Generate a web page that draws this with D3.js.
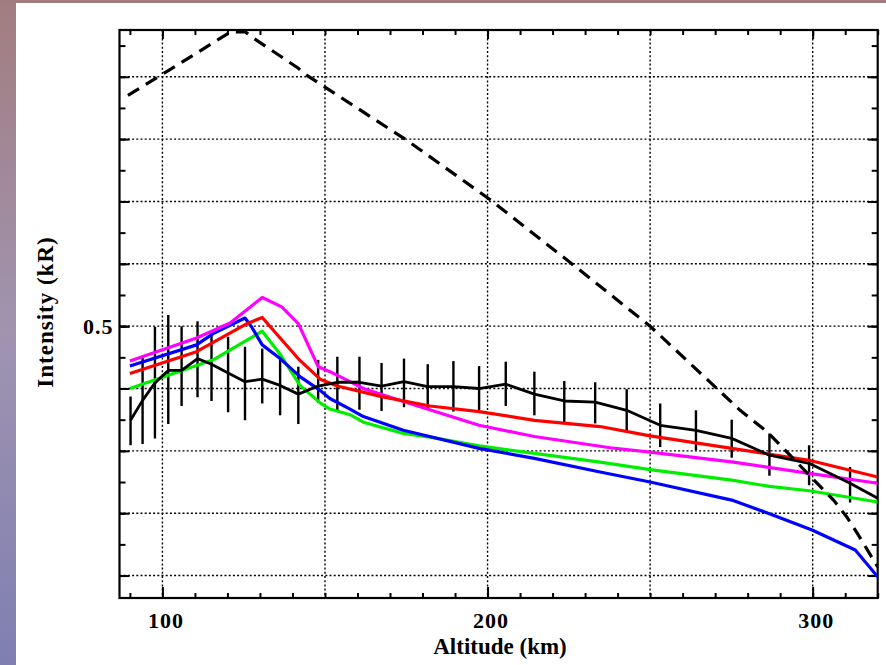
<!DOCTYPE html>
<html>
<head>
<meta charset="utf-8">
<script src="https://cdn.jsdelivr.net/npm/d3@7"></script>
<style>
  html, body { margin: 0; padding: 0; background: #ffffff; }
  svg { display: block; }
</style>
</head>
<body>
<svg id="chart" width="886" height="665"></svg>
<script>
// ---------------- data ----------------
const xDomain = [86.8, 320];          // altitude axis extent (km)
const yDomain = [0.064, 0.975];       // intensity axis extent (kR)
const xTickLabels = [100, 200, 300];
const yTickLabels = [0.5];
const xGrid = [100, 150, 200, 250, 300];
const yGrid = [0.1, 0.2, 0.3, 0.4, 0.5, 0.6, 0.7, 0.8, 0.9];

// dashed black model
const dashedAlt = [89.4, 100, 121, 125.5, 128, 141.7, 144.8, 175.2, 200.5, 225.7, 250, 261.3, 269.5, 277.7, 285.9, 292.1, 298.2, 306.4, 310.5, 313.7, 320];
const dashedVal = [0.870, 0.904, 0.972, 0.972, 0.962, 0.914, 0.901, 0.798, 0.704, 0.601, 0.500, 0.445, 0.405, 0.365, 0.331, 0.298, 0.265, 0.221, 0.194, 0.168, 0.114];

// magenta model
const magentaAlt = [90, 110.5, 120.8, 130.7, 136.7, 141.8, 147.9, 151.5, 157.7, 161.8, 174.1, 197.4, 214.4, 237.7, 250, 275.6, 298.9, 320];
const magentaVal = [0.444, 0.481, 0.505, 0.546, 0.531, 0.504, 0.435, 0.427, 0.411, 0.400, 0.379, 0.341, 0.323, 0.305, 0.298, 0.282, 0.264, 0.248];

// red model
const redAlt = [90, 110.5, 126, 130.7, 136.2, 142.3, 148.5, 153.8, 167.4, 182.3, 197.4, 214.4, 234.6, 250, 275.1, 298.9, 320];
const redVal = [0.424, 0.459, 0.504, 0.514, 0.481, 0.445, 0.415, 0.404, 0.387, 0.372, 0.363, 0.349, 0.339, 0.324, 0.304, 0.285, 0.258];

// blue model
const blueAlt = [90, 110.5, 115.6, 125.4, 127.4, 130.7, 136.2, 142.3, 148.5, 151.5, 157.7, 161.8, 174.1, 197.4, 214.4, 234.6, 250, 275.1, 286.3, 299.8, 313.1, 320];
const blueVal = [0.436, 0.470, 0.488, 0.513, 0.499, 0.470, 0.448, 0.419, 0.397, 0.384, 0.367, 0.355, 0.333, 0.304, 0.288, 0.266, 0.250, 0.221, 0.200, 0.173, 0.141, 0.098];

// green model
const greenAlt = [90, 110.5, 115.6, 130.7, 136.2, 142.3, 148.5, 151.5, 157.7, 161.8, 174.1, 182.3, 197.4, 214.4, 234.6, 250, 275.1, 286.7, 298.9, 320];
const greenVal = [0.400, 0.437, 0.446, 0.492, 0.455, 0.405, 0.377, 0.367, 0.358, 0.346, 0.328, 0.322, 0.308, 0.296, 0.282, 0.270, 0.253, 0.243, 0.236, 0.218];

// observation (black solid) with error bars
const obsAlt = [90.2, 93.9, 97.7, 101.8, 105.9, 110.8, 115.1, 120.2, 125.4, 130.7, 136.2, 141.8, 147.9, 153.8, 160.6, 167.4, 174.3, 181.6, 189.5, 197.4, 205.6, 214.4, 223.6, 233.1, 242.8, 253.1, 264.1, 275.1, 286.7, 298.9, 311.5, 320];
const obsVal = [0.349, 0.381, 0.409, 0.429, 0.429, 0.448, 0.439, 0.425, 0.411, 0.415, 0.405, 0.391, 0.404, 0.410, 0.410, 0.404, 0.411, 0.403, 0.403, 0.400, 0.407, 0.391, 0.380, 0.378, 0.365, 0.341, 0.333, 0.320, 0.293, 0.280, 0.248, 0.224];
const obsHigh = [0.387, 0.451, 0.499, 0.518, 0.500, 0.508, 0.494, 0.483, 0.467, 0.464, 0.451, 0.435, 0.446, 0.451, 0.451, 0.441, 0.448, 0.439, 0.444, 0.436, 0.443, 0.427, 0.412, 0.410, 0.399, 0.376, 0.365, 0.350, 0.328, 0.309, 0.274, null];
const obsLow  = [0.309, 0.311, 0.320, 0.343, 0.372, 0.386, 0.380, 0.362, 0.349, 0.376, 0.357, 0.343, 0.377, 0.365, 0.366, 0.364, 0.370, 0.368, 0.363, 0.365, 0.372, 0.357, 0.345, 0.344, 0.331, 0.306, 0.301, 0.289, 0.260, 0.245, 0.217, null];

// ---------------- drawing ----------------
const svg = d3.select("#chart");
const W = 886, H = 665;
const plot = { left: 119.5, right: 877.7, top: 30, bottom: 598 };

// background frame with gradient
const defs = svg.append("defs");
const grad = defs.append("linearGradient").attr("id", "bg").attr("x1", 0).attr("y1", 0).attr("x2", 0).attr("y2", 1);
grad.append("stop").attr("offset", "0%").attr("stop-color", "#a27d80");
grad.append("stop").attr("offset", "50%").attr("stop-color", "#a094b0");
grad.append("stop").attr("offset", "100%").attr("stop-color", "#7f7fb2");
svg.append("rect").attr("width", W).attr("height", H).attr("fill", "url(#bg)");
svg.append("rect").attr("x", 16).attr("y", 3).attr("width", W - 16).attr("height", H - 3).attr("fill", "#ffffff");

defs.append("clipPath").attr("id", "clip").append("rect")
  .attr("x", plot.left).attr("y", plot.top - 2)
  .attr("width", plot.right - plot.left).attr("height", plot.bottom - plot.top + 2);

const x = d3.scaleLinear().domain(xDomain).range([plot.left, plot.right]);
const y = d3.scaleLinear().domain(yDomain).range([plot.bottom, plot.top]);

// grid
const grid = svg.append("g").attr("stroke", "#000").attr("stroke-width", 1.4).attr("stroke-dasharray", "2,2.2");
grid.selectAll("line.h").data(yGrid).join("line").attr("class", "h")
  .attr("x1", plot.left).attr("x2", plot.right).attr("y1", d => y(d)).attr("y2", d => y(d));
grid.selectAll("line.v").data(xGrid).join("line").attr("class", "v")
  .attr("y1", plot.top).attr("y2", plot.bottom).attr("x1", d => x(d)).attr("x2", d => x(d));

// axes (inward ticks)
const fontFam = "'Liberation Serif', 'Times New Roman', serif";
const minorX = d3.range(90, 321, 10);
const minorY = d3.range(0.1, 0.98, 0.05).map(v => +v.toFixed(2));
const majorY = yGrid;

function styleAxis(g) {
  g.select(".domain").remove();
  g.selectAll(".tick line").attr("stroke", "#000").attr("stroke-width", 2);
}
svg.append("g").attr("transform", `translate(0,${plot.bottom})`)
  .call(d3.axisBottom(x).tickValues(minorX).tickSize(-5).tickFormat("")).call(styleAxis);
svg.append("g").attr("transform", `translate(0,${plot.bottom})`)
  .call(d3.axisBottom(x).tickValues(xTickLabels).tickSize(-11).tickPadding(14).tickFormat(d3.format("d")))
  .call(styleAxis)
  .call(g => g.selectAll("text").attr("font-family", fontFam).attr("font-weight", "bold")
    .attr("font-size", 22).attr("fill", "#000").attr("dx", 3).attr("letter-spacing", 1));
svg.append("g").attr("transform", `translate(0,${plot.top})`)
  .call(d3.axisTop(x).tickValues(minorX).tickSize(-5).tickFormat("")).call(styleAxis);
svg.append("g").attr("transform", `translate(0,${plot.top})`)
  .call(d3.axisTop(x).tickValues(xTickLabels).tickSize(-9).tickFormat("")).call(styleAxis);

svg.append("g").attr("transform", `translate(${plot.left},0)`)
  .call(d3.axisLeft(y).tickValues(minorY).tickSize(-6).tickFormat("")).call(styleAxis);
svg.append("g").attr("transform", `translate(${plot.left},0)`)
  .call(d3.axisLeft(y).tickValues(majorY).tickSize(-10).tickFormat("")).call(styleAxis);
svg.append("g").attr("transform", `translate(${plot.left},0)`)
  .call(d3.axisLeft(y).tickValues(yTickLabels).tickSize(-10).tickPadding(6).tickFormat(d3.format(".1f")))
  .call(styleAxis)
  .call(g => g.selectAll("text").attr("font-family", fontFam).attr("font-weight", "bold")
    .attr("font-size", 22).attr("fill", "#000").attr("letter-spacing", 1));
svg.append("g").attr("transform", `translate(${plot.right},0)`)
  .call(d3.axisRight(y).tickValues(minorY).tickSize(-6).tickFormat("")).call(styleAxis);
svg.append("g").attr("transform", `translate(${plot.right},0)`)
  .call(d3.axisRight(y).tickValues(majorY).tickSize(-10).tickFormat("")).call(styleAxis);

// frame
svg.append("rect").attr("x", plot.left).attr("y", plot.top)
  .attr("width", plot.right - plot.left).attr("height", plot.bottom - plot.top)
  .attr("fill", "none").attr("stroke", "#000").attr("stroke-width", 2.2);

// series
const line = d3.line().x(d => x(d[0])).y(d => y(d[1]));
const plotG = svg.append("g").attr("clip-path", "url(#clip)");
const zip = (a, b) => a.map((v, i) => [v, b[i]]);

// error bars
const bars = obsAlt.map((a, i) => ({ a, lo: obsLow[i], hi: obsHigh[i] })).filter(d => d.lo != null);
plotG.append("g").selectAll("line").data(bars).join("line")
  .attr("x1", d => x(d.a)).attr("x2", d => x(d.a))
  .attr("y1", d => y(d.lo)).attr("y2", d => y(d.hi))
  .attr("stroke", "#000").attr("stroke-width", 2.4);

const series = [
  { a: greenAlt, v: greenVal, c: "#00ee00" },
  { a: blueAlt, v: blueVal, c: "#0000ff" },
  { a: magentaAlt, v: magentaVal, c: "#ff00ff" },
  { a: redAlt, v: redVal, c: "#ff0000" },
];
series.forEach(s => {
  plotG.append("path").attr("d", line(zip(s.a, s.v)))
    .attr("fill", "none").attr("stroke", s.c).attr("stroke-width", 3.2)
    .attr("stroke-linejoin", "round");
});
plotG.append("path").attr("d", line(zip(obsAlt, obsVal)))
  .attr("fill", "none").attr("stroke", "#000").attr("stroke-width", 2.8).attr("stroke-linejoin", "round");
plotG.append("path").attr("d", line(zip(dashedAlt, dashedVal)))
  .attr("fill", "none").attr("stroke", "#000").attr("stroke-width", 3.2)
  .attr("stroke-dasharray", "13,8");

// axis titles
svg.append("text").attr("x", 500).attr("y", 654).attr("text-anchor", "middle")
  .attr("font-family", fontFam).attr("font-weight", "bold").attr("font-size", 23)
  .text("Altitude (km)");
svg.append("text").attr("transform", "translate(53,312) rotate(-90)").attr("text-anchor", "middle")
  .attr("font-family", fontFam).attr("font-weight", "bold").attr("font-size", 23)
  .attr("letter-spacing", 1)
  .text("Intensity (kR)");
</script>
</body>
</html>
